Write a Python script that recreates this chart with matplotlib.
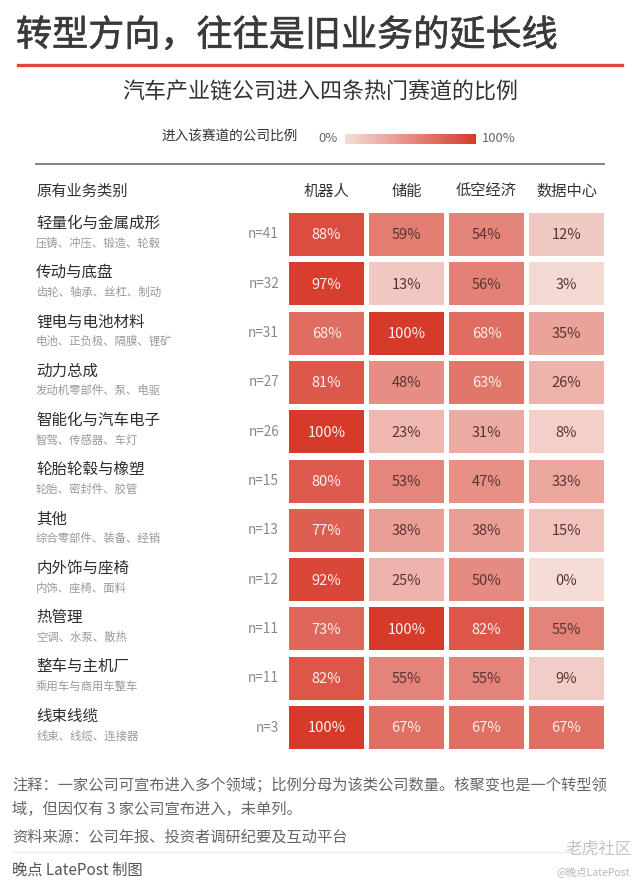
import numpy as np
import matplotlib
matplotlib.use('Agg')
import matplotlib.pyplot as plt
import matplotlib.patheffects as pe
from matplotlib.colors import LinearSegmentedColormap, Normalize
from matplotlib.patches import Rectangle
from matplotlib.transforms import blended_transform_factory
from matplotlib.cm import ScalarMappable

plt.rcParams['font.family'] = ['Noto Sans CJK SC', 'DejaVu Sans']

# data
tracks = ['机器人', '储能', '低空经济', '数据中心']
categories = ['轻量化与金属成形', '传动与底盘', '锂电与电池材料', '动力总成',
              '智能化与汽车电子', '轮胎轮毂与橡塑', '其他', '内外饰与座椅',
              '热管理', '整车与主机厂', '线束线缆']
examples = ['压铸、冲压、锻造、轮毂', '齿轮、轴承、丝杠、制动', '电池、正负极、隔膜、锂矿',
            '发动机零部件、泵、电驱', '智驾、传感器、车灯', '轮胎、密封件、胶管',
            '综合零部件、装备、经销', '内饰、座椅、面料', '空调、水泵、散热',
            '乘用车与商用车整车', '线束、线缆、连接器']
counts = [41, 32, 31, 27, 26, 15, 13, 12, 11, 11, 3]
robot = [88, 97, 68, 81, 100, 80, 77, 92, 73, 82, 100]
storage = [59, 13, 100, 48, 23, 53, 38, 25, 100, 55, 67]
low_alt = [54, 56, 68, 63, 31, 47, 38, 50, 82, 55, 67]
datacenter = [12, 3, 35, 26, 8, 33, 15, 0, 55, 9, 67]

W, H = 640, 886
fig = plt.figure(figsize=(W / 100, H / 100), dpi=100)
fig.patch.set_facecolor('white')


def fx(px):
    return px / W


def fy(py):
    return 1 - py / H


cmap = LinearSegmentedColormap.from_list('reds', ['#f5dcd7', '#d63a2b'])
norm = Normalize(0, 100)

# title block
fig.text(fx(16), fy(36), '转型方向，往往是旧业务的延长线', fontsize=26,
         color='#3a3a3a', va='center', ha='left',
         path_effects=[pe.withStroke(linewidth=0.45, foreground='#3a3a3a')])
fig.add_artist(plt.Line2D([fx(18), fx(622)], [fy(65), fy(65)], color='#d94a38', lw=2.4))
fig.text(fx(320), fy(93), '汽车产业链公司进入四条热门赛道的比例', fontsize=15.8,
         color='#333333', va='center', ha='center')

# legend
fig.text(fx(298), fy(137), '进入该赛道的公司比例', fontsize=9.8, color='#333333',
         va='center', ha='right')
fig.text(fx(338), fy(138), '0%', fontsize=9.4, color='#666666', va='center', ha='right')
fig.text(fx(482), fy(138), '100%', fontsize=9.4, color='#666666', va='center', ha='left')
cax = fig.add_axes([fx(345), fy(144), fx(131), 10 / H])
cb = fig.colorbar(ScalarMappable(norm=norm, cmap=cmap), cax=cax, orientation='horizontal')
cb.outline.set_visible(False)
cb.set_ticks([])
fig.add_artist(plt.Line2D([fx(36), fx(604)], [fy(164), fy(164)], color='#777777', lw=1.3))

# heatmap axes
pitch_x, pitch_y = 80, 49.3
left, top = 286.5, 209.85
ax = fig.add_axes([fx(left), fy(top + pitch_y * len(categories)),
                   fx(pitch_x * len(tracks)), pitch_y * len(categories) / H])
ax.set_xlim(-0.5, len(tracks) - 0.5)
ax.set_ylim(len(categories) - 0.5, -0.5)
ax.axis('off')

values = np.array([robot, storage, low_alt, datacenter]).T
gx, gy = 2.5 / pitch_x, 3.15 / pitch_y
for r in range(len(categories)):
    for c in range(len(tracks)):
        v = values[r, c]
        ax.add_patch(Rectangle((c - 0.5 + gx, r - 0.5 + gy), 1 - 2 * gx, 1 - 2 * gy,
                               facecolor=cmap(norm(v)), edgecolor='none'))
        tc = '#fdf0ee' if v >= 60 else '#5a3432'
        ax.text(c, r + 0.02, f'{v}%', ha='center', va='center', fontsize=10.5, color=tc)

for c, t in enumerate(tracks):
    ax.text(c, -0.88, t, ha='center', va='center', fontsize=11, color='#333333', clip_on=False)

tr = blended_transform_factory(fig.transFigure, ax.transData)
ax.text(fx(36), -0.88, '原有业务类别', transform=tr, ha='left', va='center',
        fontsize=11, color='#333333')
for r in range(len(categories)):
    ax.text(fx(36), r - 0.23, categories[r], transform=tr, ha='left', va='center',
            fontsize=11.2, color='#2e2e2e')
    ax.text(fx(36), r + 0.17, examples[r], transform=tr, ha='left', va='center',
            fontsize=8.2, color='#999999')
    ax.text(fx(279), r, f'n={counts[r]}', transform=tr, ha='right', va='center',
            fontsize=9.8, color='#888888')

# footnotes
fig.text(fx(12), fy(785), '注释：一家公司可宣布进入多个领域；比例分母为该类公司数量。核聚变也是一个转型领',
         fontsize=11, color='#666666', va='center', ha='left')
fig.text(fx(12), fy(809), '域，但因仅有 3 家公司宣布进入，未单列。',
         fontsize=11, color='#666666', va='center', ha='left')
fig.text(fx(12), fy(837), '资料来源：公司年报、投资者调研纪要及互动平台',
         fontsize=11, color='#666666', va='center', ha='left')
fig.add_artist(plt.Line2D([fx(12), fx(600)], [fy(852), fy(852)], color='#f0f0f0', lw=1))
fig.text(fx(12), fy(870), '晚点 LatePost 制图', fontsize=11, color='#555555',
         va='center', ha='left')

# platform watermark
fig.text(fx(632), fy(849), '老虎社区', fontsize=12, color='#c4c4c4', va='center', ha='right')
fig.text(fx(630), fy(872), '@晚点LatePost', fontsize=7.5, color='#b8b8b8', va='center', ha='right')

fig.savefig('out.png', dpi=100, facecolor='white')
